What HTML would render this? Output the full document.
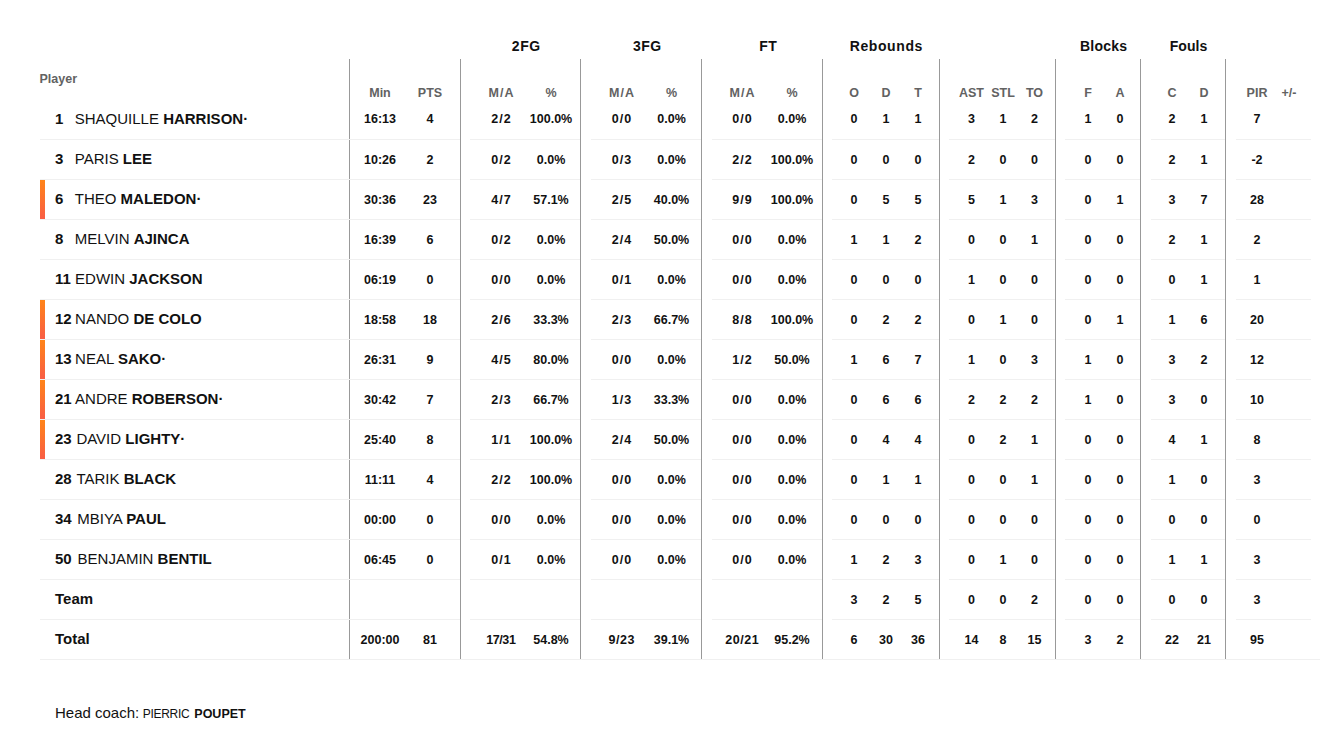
<!DOCTYPE html>
<html><head><meta charset="utf-8"><style>
html,body{margin:0;padding:0;background:#fff;width:1336px;height:733px;overflow:hidden}
body{position:relative;font-family:"Liberation Sans",sans-serif}
.t{position:absolute;white-space:nowrap}
.b{position:absolute}
</style></head><body>
<div class="b" style="left:349px;top:59px;width:1px;height:600px;background:#999"></div>
<div class="b" style="left:460px;top:59px;width:1px;height:600px;background:#999"></div>
<div class="b" style="left:580px;top:59px;width:1px;height:600px;background:#999"></div>
<div class="b" style="left:701px;top:59px;width:1px;height:600px;background:#999"></div>
<div class="b" style="left:822px;top:59px;width:1px;height:600px;background:#999"></div>
<div class="b" style="left:939px;top:59px;width:1px;height:600px;background:#999"></div>
<div class="b" style="left:1055px;top:59px;width:1px;height:600px;background:#999"></div>
<div class="b" style="left:1140px;top:59px;width:1px;height:600px;background:#999"></div>
<div class="b" style="left:1225px;top:59px;width:1px;height:600px;background:#999"></div>
<div class="b" style="left:40px;top:139px;width:420px;height:1px;background:#f0f0f0"></div>
<div class="b" style="left:470px;top:139px;width:110px;height:1px;background:#f0f0f0"></div>
<div class="b" style="left:591px;top:139px;width:110px;height:1px;background:#f0f0f0"></div>
<div class="b" style="left:712px;top:139px;width:110px;height:1px;background:#f0f0f0"></div>
<div class="b" style="left:832px;top:139px;width:107px;height:1px;background:#f0f0f0"></div>
<div class="b" style="left:949px;top:139px;width:106px;height:1px;background:#f0f0f0"></div>
<div class="b" style="left:1065px;top:139px;width:75px;height:1px;background:#f0f0f0"></div>
<div class="b" style="left:1151px;top:139px;width:74px;height:1px;background:#f0f0f0"></div>
<div class="b" style="left:1236px;top:139px;width:75px;height:1px;background:#f0f0f0"></div>
<div class="b" style="left:40px;top:179px;width:420px;height:1px;background:#f0f0f0"></div>
<div class="b" style="left:470px;top:179px;width:110px;height:1px;background:#f0f0f0"></div>
<div class="b" style="left:591px;top:179px;width:110px;height:1px;background:#f0f0f0"></div>
<div class="b" style="left:712px;top:179px;width:110px;height:1px;background:#f0f0f0"></div>
<div class="b" style="left:832px;top:179px;width:107px;height:1px;background:#f0f0f0"></div>
<div class="b" style="left:949px;top:179px;width:106px;height:1px;background:#f0f0f0"></div>
<div class="b" style="left:1065px;top:179px;width:75px;height:1px;background:#f0f0f0"></div>
<div class="b" style="left:1151px;top:179px;width:74px;height:1px;background:#f0f0f0"></div>
<div class="b" style="left:1236px;top:179px;width:75px;height:1px;background:#f0f0f0"></div>
<div class="b" style="left:40px;top:219px;width:420px;height:1px;background:#f0f0f0"></div>
<div class="b" style="left:470px;top:219px;width:110px;height:1px;background:#f0f0f0"></div>
<div class="b" style="left:591px;top:219px;width:110px;height:1px;background:#f0f0f0"></div>
<div class="b" style="left:712px;top:219px;width:110px;height:1px;background:#f0f0f0"></div>
<div class="b" style="left:832px;top:219px;width:107px;height:1px;background:#f0f0f0"></div>
<div class="b" style="left:949px;top:219px;width:106px;height:1px;background:#f0f0f0"></div>
<div class="b" style="left:1065px;top:219px;width:75px;height:1px;background:#f0f0f0"></div>
<div class="b" style="left:1151px;top:219px;width:74px;height:1px;background:#f0f0f0"></div>
<div class="b" style="left:1236px;top:219px;width:75px;height:1px;background:#f0f0f0"></div>
<div class="b" style="left:40px;top:259px;width:420px;height:1px;background:#f0f0f0"></div>
<div class="b" style="left:470px;top:259px;width:110px;height:1px;background:#f0f0f0"></div>
<div class="b" style="left:591px;top:259px;width:110px;height:1px;background:#f0f0f0"></div>
<div class="b" style="left:712px;top:259px;width:110px;height:1px;background:#f0f0f0"></div>
<div class="b" style="left:832px;top:259px;width:107px;height:1px;background:#f0f0f0"></div>
<div class="b" style="left:949px;top:259px;width:106px;height:1px;background:#f0f0f0"></div>
<div class="b" style="left:1065px;top:259px;width:75px;height:1px;background:#f0f0f0"></div>
<div class="b" style="left:1151px;top:259px;width:74px;height:1px;background:#f0f0f0"></div>
<div class="b" style="left:1236px;top:259px;width:75px;height:1px;background:#f0f0f0"></div>
<div class="b" style="left:40px;top:299px;width:420px;height:1px;background:#f0f0f0"></div>
<div class="b" style="left:470px;top:299px;width:110px;height:1px;background:#f0f0f0"></div>
<div class="b" style="left:591px;top:299px;width:110px;height:1px;background:#f0f0f0"></div>
<div class="b" style="left:712px;top:299px;width:110px;height:1px;background:#f0f0f0"></div>
<div class="b" style="left:832px;top:299px;width:107px;height:1px;background:#f0f0f0"></div>
<div class="b" style="left:949px;top:299px;width:106px;height:1px;background:#f0f0f0"></div>
<div class="b" style="left:1065px;top:299px;width:75px;height:1px;background:#f0f0f0"></div>
<div class="b" style="left:1151px;top:299px;width:74px;height:1px;background:#f0f0f0"></div>
<div class="b" style="left:1236px;top:299px;width:75px;height:1px;background:#f0f0f0"></div>
<div class="b" style="left:40px;top:339px;width:420px;height:1px;background:#f0f0f0"></div>
<div class="b" style="left:470px;top:339px;width:110px;height:1px;background:#f0f0f0"></div>
<div class="b" style="left:591px;top:339px;width:110px;height:1px;background:#f0f0f0"></div>
<div class="b" style="left:712px;top:339px;width:110px;height:1px;background:#f0f0f0"></div>
<div class="b" style="left:832px;top:339px;width:107px;height:1px;background:#f0f0f0"></div>
<div class="b" style="left:949px;top:339px;width:106px;height:1px;background:#f0f0f0"></div>
<div class="b" style="left:1065px;top:339px;width:75px;height:1px;background:#f0f0f0"></div>
<div class="b" style="left:1151px;top:339px;width:74px;height:1px;background:#f0f0f0"></div>
<div class="b" style="left:1236px;top:339px;width:75px;height:1px;background:#f0f0f0"></div>
<div class="b" style="left:40px;top:379px;width:420px;height:1px;background:#f0f0f0"></div>
<div class="b" style="left:470px;top:379px;width:110px;height:1px;background:#f0f0f0"></div>
<div class="b" style="left:591px;top:379px;width:110px;height:1px;background:#f0f0f0"></div>
<div class="b" style="left:712px;top:379px;width:110px;height:1px;background:#f0f0f0"></div>
<div class="b" style="left:832px;top:379px;width:107px;height:1px;background:#f0f0f0"></div>
<div class="b" style="left:949px;top:379px;width:106px;height:1px;background:#f0f0f0"></div>
<div class="b" style="left:1065px;top:379px;width:75px;height:1px;background:#f0f0f0"></div>
<div class="b" style="left:1151px;top:379px;width:74px;height:1px;background:#f0f0f0"></div>
<div class="b" style="left:1236px;top:379px;width:75px;height:1px;background:#f0f0f0"></div>
<div class="b" style="left:40px;top:419px;width:420px;height:1px;background:#f0f0f0"></div>
<div class="b" style="left:470px;top:419px;width:110px;height:1px;background:#f0f0f0"></div>
<div class="b" style="left:591px;top:419px;width:110px;height:1px;background:#f0f0f0"></div>
<div class="b" style="left:712px;top:419px;width:110px;height:1px;background:#f0f0f0"></div>
<div class="b" style="left:832px;top:419px;width:107px;height:1px;background:#f0f0f0"></div>
<div class="b" style="left:949px;top:419px;width:106px;height:1px;background:#f0f0f0"></div>
<div class="b" style="left:1065px;top:419px;width:75px;height:1px;background:#f0f0f0"></div>
<div class="b" style="left:1151px;top:419px;width:74px;height:1px;background:#f0f0f0"></div>
<div class="b" style="left:1236px;top:419px;width:75px;height:1px;background:#f0f0f0"></div>
<div class="b" style="left:40px;top:459px;width:420px;height:1px;background:#f0f0f0"></div>
<div class="b" style="left:470px;top:459px;width:110px;height:1px;background:#f0f0f0"></div>
<div class="b" style="left:591px;top:459px;width:110px;height:1px;background:#f0f0f0"></div>
<div class="b" style="left:712px;top:459px;width:110px;height:1px;background:#f0f0f0"></div>
<div class="b" style="left:832px;top:459px;width:107px;height:1px;background:#f0f0f0"></div>
<div class="b" style="left:949px;top:459px;width:106px;height:1px;background:#f0f0f0"></div>
<div class="b" style="left:1065px;top:459px;width:75px;height:1px;background:#f0f0f0"></div>
<div class="b" style="left:1151px;top:459px;width:74px;height:1px;background:#f0f0f0"></div>
<div class="b" style="left:1236px;top:459px;width:75px;height:1px;background:#f0f0f0"></div>
<div class="b" style="left:40px;top:499px;width:420px;height:1px;background:#f0f0f0"></div>
<div class="b" style="left:470px;top:499px;width:110px;height:1px;background:#f0f0f0"></div>
<div class="b" style="left:591px;top:499px;width:110px;height:1px;background:#f0f0f0"></div>
<div class="b" style="left:712px;top:499px;width:110px;height:1px;background:#f0f0f0"></div>
<div class="b" style="left:832px;top:499px;width:107px;height:1px;background:#f0f0f0"></div>
<div class="b" style="left:949px;top:499px;width:106px;height:1px;background:#f0f0f0"></div>
<div class="b" style="left:1065px;top:499px;width:75px;height:1px;background:#f0f0f0"></div>
<div class="b" style="left:1151px;top:499px;width:74px;height:1px;background:#f0f0f0"></div>
<div class="b" style="left:1236px;top:499px;width:75px;height:1px;background:#f0f0f0"></div>
<div class="b" style="left:40px;top:539px;width:420px;height:1px;background:#f0f0f0"></div>
<div class="b" style="left:470px;top:539px;width:110px;height:1px;background:#f0f0f0"></div>
<div class="b" style="left:591px;top:539px;width:110px;height:1px;background:#f0f0f0"></div>
<div class="b" style="left:712px;top:539px;width:110px;height:1px;background:#f0f0f0"></div>
<div class="b" style="left:832px;top:539px;width:107px;height:1px;background:#f0f0f0"></div>
<div class="b" style="left:949px;top:539px;width:106px;height:1px;background:#f0f0f0"></div>
<div class="b" style="left:1065px;top:539px;width:75px;height:1px;background:#f0f0f0"></div>
<div class="b" style="left:1151px;top:539px;width:74px;height:1px;background:#f0f0f0"></div>
<div class="b" style="left:1236px;top:539px;width:75px;height:1px;background:#f0f0f0"></div>
<div class="b" style="left:40px;top:579px;width:420px;height:1px;background:#f0f0f0"></div>
<div class="b" style="left:470px;top:579px;width:110px;height:1px;background:#f0f0f0"></div>
<div class="b" style="left:591px;top:579px;width:110px;height:1px;background:#f0f0f0"></div>
<div class="b" style="left:712px;top:579px;width:110px;height:1px;background:#f0f0f0"></div>
<div class="b" style="left:832px;top:579px;width:107px;height:1px;background:#f0f0f0"></div>
<div class="b" style="left:949px;top:579px;width:106px;height:1px;background:#f0f0f0"></div>
<div class="b" style="left:1065px;top:579px;width:75px;height:1px;background:#f0f0f0"></div>
<div class="b" style="left:1151px;top:579px;width:74px;height:1px;background:#f0f0f0"></div>
<div class="b" style="left:1236px;top:579px;width:75px;height:1px;background:#f0f0f0"></div>
<div class="b" style="left:40px;top:619px;width:420px;height:1px;background:#f0f0f0"></div>
<div class="b" style="left:470px;top:619px;width:110px;height:1px;background:#f0f0f0"></div>
<div class="b" style="left:591px;top:619px;width:110px;height:1px;background:#f0f0f0"></div>
<div class="b" style="left:712px;top:619px;width:110px;height:1px;background:#f0f0f0"></div>
<div class="b" style="left:832px;top:619px;width:107px;height:1px;background:#f0f0f0"></div>
<div class="b" style="left:949px;top:619px;width:106px;height:1px;background:#f0f0f0"></div>
<div class="b" style="left:1065px;top:619px;width:75px;height:1px;background:#f0f0f0"></div>
<div class="b" style="left:1151px;top:619px;width:74px;height:1px;background:#f0f0f0"></div>
<div class="b" style="left:1236px;top:619px;width:75px;height:1px;background:#f0f0f0"></div>
<div class="b" style="left:40px;top:659px;width:1280px;height:1px;background:#f0f0f0"></div>
<div class="b" style="left:40px;top:180px;width:5px;height:39px;background:linear-gradient(#ff8418,#f95d45)"></div>
<div class="b" style="left:40px;top:300px;width:5px;height:39px;background:linear-gradient(#ff8418,#f95d45)"></div>
<div class="b" style="left:40px;top:340px;width:5px;height:39px;background:linear-gradient(#ff8418,#f95d45)"></div>
<div class="b" style="left:40px;top:380px;width:5px;height:39px;background:linear-gradient(#ff8418,#f95d45)"></div>
<div class="b" style="left:40px;top:420px;width:5px;height:39px;background:linear-gradient(#ff8418,#f95d45)"></div>
<div class="t" style="left:466.30px;width:120px;top:37.85px;font-size:14px;line-height:17px;color:#111;font-weight:bold;text-align:center;letter-spacing:0.6px">2FG</div>
<div class="t" style="left:587.25px;width:120px;top:37.85px;font-size:14px;line-height:17px;color:#111;font-weight:bold;text-align:center;letter-spacing:0.5px">3FG</div>
<div class="t" style="left:708.15px;width:120px;top:37.85px;font-size:14px;line-height:17px;color:#111;font-weight:bold;text-align:center;letter-spacing:0.3px">FT</div>
<div class="t" style="left:826.30px;width:120px;top:37.85px;font-size:14px;line-height:17px;color:#111;font-weight:bold;text-align:center;letter-spacing:0.6px">Rebounds</div>
<div class="t" style="left:1043.60px;width:120px;top:37.85px;font-size:14px;line-height:17px;color:#111;font-weight:bold;text-align:center;letter-spacing:0.2px">Blocks</div>
<div class="t" style="left:1128.55px;width:120px;top:37.85px;font-size:14px;line-height:17px;color:#111;font-weight:bold;text-align:center;letter-spacing:0.1px">Fouls</div>
<div class="t" style="left:39.50px;top:72.17px;font-size:12.5px;line-height:15px;color:#626262;font-weight:bold;">Player</div>
<div class="t" style="left:320.00px;width:120px;top:86.17px;font-size:12.5px;line-height:15px;color:#626262;font-weight:bold;text-align:center;">Min</div>
<div class="t" style="left:370.00px;width:120px;top:86.17px;font-size:12.5px;line-height:15px;color:#626262;font-weight:bold;text-align:center;">PTS</div>
<div class="t" style="left:441.50px;width:120px;top:86.17px;font-size:12.5px;line-height:15px;color:#626262;font-weight:bold;text-align:center;letter-spacing:1px">M/A</div>
<div class="t" style="left:491.00px;width:120px;top:86.17px;font-size:12.5px;line-height:15px;color:#626262;font-weight:bold;text-align:center;">%</div>
<div class="t" style="left:562.00px;width:120px;top:86.17px;font-size:12.5px;line-height:15px;color:#626262;font-weight:bold;text-align:center;letter-spacing:1px">M/A</div>
<div class="t" style="left:611.50px;width:120px;top:86.17px;font-size:12.5px;line-height:15px;color:#626262;font-weight:bold;text-align:center;">%</div>
<div class="t" style="left:682.50px;width:120px;top:86.17px;font-size:12.5px;line-height:15px;color:#626262;font-weight:bold;text-align:center;letter-spacing:1px">M/A</div>
<div class="t" style="left:732.00px;width:120px;top:86.17px;font-size:12.5px;line-height:15px;color:#626262;font-weight:bold;text-align:center;">%</div>
<div class="t" style="left:794.00px;width:120px;top:86.17px;font-size:12.5px;line-height:15px;color:#626262;font-weight:bold;text-align:center;">O</div>
<div class="t" style="left:826.00px;width:120px;top:86.17px;font-size:12.5px;line-height:15px;color:#626262;font-weight:bold;text-align:center;">D</div>
<div class="t" style="left:858.00px;width:120px;top:86.17px;font-size:12.5px;line-height:15px;color:#626262;font-weight:bold;text-align:center;">T</div>
<div class="t" style="left:911.50px;width:120px;top:86.17px;font-size:12.5px;line-height:15px;color:#626262;font-weight:bold;text-align:center;">AST</div>
<div class="t" style="left:943.00px;width:120px;top:86.17px;font-size:12.5px;line-height:15px;color:#626262;font-weight:bold;text-align:center;">STL</div>
<div class="t" style="left:974.50px;width:120px;top:86.17px;font-size:12.5px;line-height:15px;color:#626262;font-weight:bold;text-align:center;">TO</div>
<div class="t" style="left:1028.00px;width:120px;top:86.17px;font-size:12.5px;line-height:15px;color:#626262;font-weight:bold;text-align:center;">F</div>
<div class="t" style="left:1060.00px;width:120px;top:86.17px;font-size:12.5px;line-height:15px;color:#626262;font-weight:bold;text-align:center;">A</div>
<div class="t" style="left:1112.00px;width:120px;top:86.17px;font-size:12.5px;line-height:15px;color:#626262;font-weight:bold;text-align:center;">C</div>
<div class="t" style="left:1144.00px;width:120px;top:86.17px;font-size:12.5px;line-height:15px;color:#626262;font-weight:bold;text-align:center;">D</div>
<div class="t" style="left:1197.00px;width:120px;top:86.17px;font-size:12.5px;line-height:15px;color:#626262;font-weight:bold;text-align:center;">PIR</div>
<div class="t" style="left:1229.00px;width:120px;top:86.17px;font-size:12.5px;line-height:15px;color:#626262;font-weight:bold;text-align:center;">+/-</div>
<div class="t" style="left:55.00px;top:110.20px;font-size:15px;line-height:18px;color:#111;font-weight:bold;">1</div>
<div class="t" style="left:74.75px;top:110.20px;font-size:15px;line-height:18px;color:#111;font-weight:bold;"><span style="font-weight:normal">SHAQUILLE </span>HARRISON·</div>
<div class="t" style="left:320.00px;width:120px;top:111.67px;font-size:12.5px;line-height:15px;color:#111;font-weight:bold;text-align:center;">16:13</div>
<div class="t" style="left:370.00px;width:120px;top:111.67px;font-size:12.5px;line-height:15px;color:#111;font-weight:bold;text-align:center;">4</div>
<div class="t" style="left:441.50px;width:120px;top:111.67px;font-size:12.5px;line-height:15px;color:#111;font-weight:bold;text-align:center;letter-spacing:1px">2/2</div>
<div class="t" style="left:491.00px;width:120px;top:111.67px;font-size:12.5px;line-height:15px;color:#111;font-weight:bold;text-align:center;">100.0%</div>
<div class="t" style="left:562.00px;width:120px;top:111.67px;font-size:12.5px;line-height:15px;color:#111;font-weight:bold;text-align:center;letter-spacing:1px">0/0</div>
<div class="t" style="left:611.50px;width:120px;top:111.67px;font-size:12.5px;line-height:15px;color:#111;font-weight:bold;text-align:center;">0.0%</div>
<div class="t" style="left:682.50px;width:120px;top:111.67px;font-size:12.5px;line-height:15px;color:#111;font-weight:bold;text-align:center;letter-spacing:1px">0/0</div>
<div class="t" style="left:732.00px;width:120px;top:111.67px;font-size:12.5px;line-height:15px;color:#111;font-weight:bold;text-align:center;">0.0%</div>
<div class="t" style="left:794.00px;width:120px;top:111.67px;font-size:12.5px;line-height:15px;color:#111;font-weight:bold;text-align:center;">0</div>
<div class="t" style="left:826.00px;width:120px;top:111.67px;font-size:12.5px;line-height:15px;color:#111;font-weight:bold;text-align:center;">1</div>
<div class="t" style="left:858.00px;width:120px;top:111.67px;font-size:12.5px;line-height:15px;color:#111;font-weight:bold;text-align:center;">1</div>
<div class="t" style="left:911.50px;width:120px;top:111.67px;font-size:12.5px;line-height:15px;color:#111;font-weight:bold;text-align:center;">3</div>
<div class="t" style="left:943.00px;width:120px;top:111.67px;font-size:12.5px;line-height:15px;color:#111;font-weight:bold;text-align:center;">1</div>
<div class="t" style="left:974.50px;width:120px;top:111.67px;font-size:12.5px;line-height:15px;color:#111;font-weight:bold;text-align:center;">2</div>
<div class="t" style="left:1028.00px;width:120px;top:111.67px;font-size:12.5px;line-height:15px;color:#111;font-weight:bold;text-align:center;">1</div>
<div class="t" style="left:1060.00px;width:120px;top:111.67px;font-size:12.5px;line-height:15px;color:#111;font-weight:bold;text-align:center;">0</div>
<div class="t" style="left:1112.00px;width:120px;top:111.67px;font-size:12.5px;line-height:15px;color:#111;font-weight:bold;text-align:center;">2</div>
<div class="t" style="left:1144.00px;width:120px;top:111.67px;font-size:12.5px;line-height:15px;color:#111;font-weight:bold;text-align:center;">1</div>
<div class="t" style="left:1197.00px;width:120px;top:111.67px;font-size:12.5px;line-height:15px;color:#111;font-weight:bold;text-align:center;">7</div>
<div class="t" style="left:55.00px;top:150.20px;font-size:15px;line-height:18px;color:#111;font-weight:bold;">3</div>
<div class="t" style="left:74.75px;top:150.20px;font-size:15px;line-height:18px;color:#111;font-weight:bold;"><span style="font-weight:normal">PARIS </span>LEE</div>
<div class="t" style="left:320.00px;width:120px;top:152.67px;font-size:12.5px;line-height:15px;color:#111;font-weight:bold;text-align:center;">10:26</div>
<div class="t" style="left:370.00px;width:120px;top:152.67px;font-size:12.5px;line-height:15px;color:#111;font-weight:bold;text-align:center;">2</div>
<div class="t" style="left:441.50px;width:120px;top:152.67px;font-size:12.5px;line-height:15px;color:#111;font-weight:bold;text-align:center;letter-spacing:1px">0/2</div>
<div class="t" style="left:491.00px;width:120px;top:152.67px;font-size:12.5px;line-height:15px;color:#111;font-weight:bold;text-align:center;">0.0%</div>
<div class="t" style="left:562.00px;width:120px;top:152.67px;font-size:12.5px;line-height:15px;color:#111;font-weight:bold;text-align:center;letter-spacing:1px">0/3</div>
<div class="t" style="left:611.50px;width:120px;top:152.67px;font-size:12.5px;line-height:15px;color:#111;font-weight:bold;text-align:center;">0.0%</div>
<div class="t" style="left:682.50px;width:120px;top:152.67px;font-size:12.5px;line-height:15px;color:#111;font-weight:bold;text-align:center;letter-spacing:1px">2/2</div>
<div class="t" style="left:732.00px;width:120px;top:152.67px;font-size:12.5px;line-height:15px;color:#111;font-weight:bold;text-align:center;">100.0%</div>
<div class="t" style="left:794.00px;width:120px;top:152.67px;font-size:12.5px;line-height:15px;color:#111;font-weight:bold;text-align:center;">0</div>
<div class="t" style="left:826.00px;width:120px;top:152.67px;font-size:12.5px;line-height:15px;color:#111;font-weight:bold;text-align:center;">0</div>
<div class="t" style="left:858.00px;width:120px;top:152.67px;font-size:12.5px;line-height:15px;color:#111;font-weight:bold;text-align:center;">0</div>
<div class="t" style="left:911.50px;width:120px;top:152.67px;font-size:12.5px;line-height:15px;color:#111;font-weight:bold;text-align:center;">2</div>
<div class="t" style="left:943.00px;width:120px;top:152.67px;font-size:12.5px;line-height:15px;color:#111;font-weight:bold;text-align:center;">0</div>
<div class="t" style="left:974.50px;width:120px;top:152.67px;font-size:12.5px;line-height:15px;color:#111;font-weight:bold;text-align:center;">0</div>
<div class="t" style="left:1028.00px;width:120px;top:152.67px;font-size:12.5px;line-height:15px;color:#111;font-weight:bold;text-align:center;">0</div>
<div class="t" style="left:1060.00px;width:120px;top:152.67px;font-size:12.5px;line-height:15px;color:#111;font-weight:bold;text-align:center;">0</div>
<div class="t" style="left:1112.00px;width:120px;top:152.67px;font-size:12.5px;line-height:15px;color:#111;font-weight:bold;text-align:center;">2</div>
<div class="t" style="left:1144.00px;width:120px;top:152.67px;font-size:12.5px;line-height:15px;color:#111;font-weight:bold;text-align:center;">1</div>
<div class="t" style="left:1197.00px;width:120px;top:152.67px;font-size:12.5px;line-height:15px;color:#111;font-weight:bold;text-align:center;">-2</div>
<div class="t" style="left:55.00px;top:190.20px;font-size:15px;line-height:18px;color:#111;font-weight:bold;">6</div>
<div class="t" style="left:74.75px;top:190.20px;font-size:15px;line-height:18px;color:#111;font-weight:bold;"><span style="font-weight:normal">THEO </span>MALEDON·</div>
<div class="t" style="left:320.00px;width:120px;top:192.67px;font-size:12.5px;line-height:15px;color:#111;font-weight:bold;text-align:center;">30:36</div>
<div class="t" style="left:370.00px;width:120px;top:192.67px;font-size:12.5px;line-height:15px;color:#111;font-weight:bold;text-align:center;">23</div>
<div class="t" style="left:441.50px;width:120px;top:192.67px;font-size:12.5px;line-height:15px;color:#111;font-weight:bold;text-align:center;letter-spacing:1px">4/7</div>
<div class="t" style="left:491.00px;width:120px;top:192.67px;font-size:12.5px;line-height:15px;color:#111;font-weight:bold;text-align:center;">57.1%</div>
<div class="t" style="left:562.00px;width:120px;top:192.67px;font-size:12.5px;line-height:15px;color:#111;font-weight:bold;text-align:center;letter-spacing:1px">2/5</div>
<div class="t" style="left:611.50px;width:120px;top:192.67px;font-size:12.5px;line-height:15px;color:#111;font-weight:bold;text-align:center;">40.0%</div>
<div class="t" style="left:682.50px;width:120px;top:192.67px;font-size:12.5px;line-height:15px;color:#111;font-weight:bold;text-align:center;letter-spacing:1px">9/9</div>
<div class="t" style="left:732.00px;width:120px;top:192.67px;font-size:12.5px;line-height:15px;color:#111;font-weight:bold;text-align:center;">100.0%</div>
<div class="t" style="left:794.00px;width:120px;top:192.67px;font-size:12.5px;line-height:15px;color:#111;font-weight:bold;text-align:center;">0</div>
<div class="t" style="left:826.00px;width:120px;top:192.67px;font-size:12.5px;line-height:15px;color:#111;font-weight:bold;text-align:center;">5</div>
<div class="t" style="left:858.00px;width:120px;top:192.67px;font-size:12.5px;line-height:15px;color:#111;font-weight:bold;text-align:center;">5</div>
<div class="t" style="left:911.50px;width:120px;top:192.67px;font-size:12.5px;line-height:15px;color:#111;font-weight:bold;text-align:center;">5</div>
<div class="t" style="left:943.00px;width:120px;top:192.67px;font-size:12.5px;line-height:15px;color:#111;font-weight:bold;text-align:center;">1</div>
<div class="t" style="left:974.50px;width:120px;top:192.67px;font-size:12.5px;line-height:15px;color:#111;font-weight:bold;text-align:center;">3</div>
<div class="t" style="left:1028.00px;width:120px;top:192.67px;font-size:12.5px;line-height:15px;color:#111;font-weight:bold;text-align:center;">0</div>
<div class="t" style="left:1060.00px;width:120px;top:192.67px;font-size:12.5px;line-height:15px;color:#111;font-weight:bold;text-align:center;">1</div>
<div class="t" style="left:1112.00px;width:120px;top:192.67px;font-size:12.5px;line-height:15px;color:#111;font-weight:bold;text-align:center;">3</div>
<div class="t" style="left:1144.00px;width:120px;top:192.67px;font-size:12.5px;line-height:15px;color:#111;font-weight:bold;text-align:center;">7</div>
<div class="t" style="left:1197.00px;width:120px;top:192.67px;font-size:12.5px;line-height:15px;color:#111;font-weight:bold;text-align:center;">28</div>
<div class="t" style="left:55.00px;top:230.20px;font-size:15px;line-height:18px;color:#111;font-weight:bold;">8</div>
<div class="t" style="left:74.75px;top:230.20px;font-size:15px;line-height:18px;color:#111;font-weight:bold;"><span style="font-weight:normal">MELVIN </span>AJINCA</div>
<div class="t" style="left:320.00px;width:120px;top:232.67px;font-size:12.5px;line-height:15px;color:#111;font-weight:bold;text-align:center;">16:39</div>
<div class="t" style="left:370.00px;width:120px;top:232.67px;font-size:12.5px;line-height:15px;color:#111;font-weight:bold;text-align:center;">6</div>
<div class="t" style="left:441.50px;width:120px;top:232.67px;font-size:12.5px;line-height:15px;color:#111;font-weight:bold;text-align:center;letter-spacing:1px">0/2</div>
<div class="t" style="left:491.00px;width:120px;top:232.67px;font-size:12.5px;line-height:15px;color:#111;font-weight:bold;text-align:center;">0.0%</div>
<div class="t" style="left:562.00px;width:120px;top:232.67px;font-size:12.5px;line-height:15px;color:#111;font-weight:bold;text-align:center;letter-spacing:1px">2/4</div>
<div class="t" style="left:611.50px;width:120px;top:232.67px;font-size:12.5px;line-height:15px;color:#111;font-weight:bold;text-align:center;">50.0%</div>
<div class="t" style="left:682.50px;width:120px;top:232.67px;font-size:12.5px;line-height:15px;color:#111;font-weight:bold;text-align:center;letter-spacing:1px">0/0</div>
<div class="t" style="left:732.00px;width:120px;top:232.67px;font-size:12.5px;line-height:15px;color:#111;font-weight:bold;text-align:center;">0.0%</div>
<div class="t" style="left:794.00px;width:120px;top:232.67px;font-size:12.5px;line-height:15px;color:#111;font-weight:bold;text-align:center;">1</div>
<div class="t" style="left:826.00px;width:120px;top:232.67px;font-size:12.5px;line-height:15px;color:#111;font-weight:bold;text-align:center;">1</div>
<div class="t" style="left:858.00px;width:120px;top:232.67px;font-size:12.5px;line-height:15px;color:#111;font-weight:bold;text-align:center;">2</div>
<div class="t" style="left:911.50px;width:120px;top:232.67px;font-size:12.5px;line-height:15px;color:#111;font-weight:bold;text-align:center;">0</div>
<div class="t" style="left:943.00px;width:120px;top:232.67px;font-size:12.5px;line-height:15px;color:#111;font-weight:bold;text-align:center;">0</div>
<div class="t" style="left:974.50px;width:120px;top:232.67px;font-size:12.5px;line-height:15px;color:#111;font-weight:bold;text-align:center;">1</div>
<div class="t" style="left:1028.00px;width:120px;top:232.67px;font-size:12.5px;line-height:15px;color:#111;font-weight:bold;text-align:center;">0</div>
<div class="t" style="left:1060.00px;width:120px;top:232.67px;font-size:12.5px;line-height:15px;color:#111;font-weight:bold;text-align:center;">0</div>
<div class="t" style="left:1112.00px;width:120px;top:232.67px;font-size:12.5px;line-height:15px;color:#111;font-weight:bold;text-align:center;">2</div>
<div class="t" style="left:1144.00px;width:120px;top:232.67px;font-size:12.5px;line-height:15px;color:#111;font-weight:bold;text-align:center;">1</div>
<div class="t" style="left:1197.00px;width:120px;top:232.67px;font-size:12.5px;line-height:15px;color:#111;font-weight:bold;text-align:center;">2</div>
<div class="t" style="left:55.00px;top:270.20px;font-size:15px;line-height:18px;color:#111;font-weight:bold;">11</div>
<div class="t" style="left:75.10px;top:270.20px;font-size:15px;line-height:18px;color:#111;font-weight:bold;"><span style="font-weight:normal">EDWIN </span>JACKSON</div>
<div class="t" style="left:320.00px;width:120px;top:272.67px;font-size:12.5px;line-height:15px;color:#111;font-weight:bold;text-align:center;">06:19</div>
<div class="t" style="left:370.00px;width:120px;top:272.67px;font-size:12.5px;line-height:15px;color:#111;font-weight:bold;text-align:center;">0</div>
<div class="t" style="left:441.50px;width:120px;top:272.67px;font-size:12.5px;line-height:15px;color:#111;font-weight:bold;text-align:center;letter-spacing:1px">0/0</div>
<div class="t" style="left:491.00px;width:120px;top:272.67px;font-size:12.5px;line-height:15px;color:#111;font-weight:bold;text-align:center;">0.0%</div>
<div class="t" style="left:562.00px;width:120px;top:272.67px;font-size:12.5px;line-height:15px;color:#111;font-weight:bold;text-align:center;letter-spacing:1px">0/1</div>
<div class="t" style="left:611.50px;width:120px;top:272.67px;font-size:12.5px;line-height:15px;color:#111;font-weight:bold;text-align:center;">0.0%</div>
<div class="t" style="left:682.50px;width:120px;top:272.67px;font-size:12.5px;line-height:15px;color:#111;font-weight:bold;text-align:center;letter-spacing:1px">0/0</div>
<div class="t" style="left:732.00px;width:120px;top:272.67px;font-size:12.5px;line-height:15px;color:#111;font-weight:bold;text-align:center;">0.0%</div>
<div class="t" style="left:794.00px;width:120px;top:272.67px;font-size:12.5px;line-height:15px;color:#111;font-weight:bold;text-align:center;">0</div>
<div class="t" style="left:826.00px;width:120px;top:272.67px;font-size:12.5px;line-height:15px;color:#111;font-weight:bold;text-align:center;">0</div>
<div class="t" style="left:858.00px;width:120px;top:272.67px;font-size:12.5px;line-height:15px;color:#111;font-weight:bold;text-align:center;">0</div>
<div class="t" style="left:911.50px;width:120px;top:272.67px;font-size:12.5px;line-height:15px;color:#111;font-weight:bold;text-align:center;">1</div>
<div class="t" style="left:943.00px;width:120px;top:272.67px;font-size:12.5px;line-height:15px;color:#111;font-weight:bold;text-align:center;">0</div>
<div class="t" style="left:974.50px;width:120px;top:272.67px;font-size:12.5px;line-height:15px;color:#111;font-weight:bold;text-align:center;">0</div>
<div class="t" style="left:1028.00px;width:120px;top:272.67px;font-size:12.5px;line-height:15px;color:#111;font-weight:bold;text-align:center;">0</div>
<div class="t" style="left:1060.00px;width:120px;top:272.67px;font-size:12.5px;line-height:15px;color:#111;font-weight:bold;text-align:center;">0</div>
<div class="t" style="left:1112.00px;width:120px;top:272.67px;font-size:12.5px;line-height:15px;color:#111;font-weight:bold;text-align:center;">0</div>
<div class="t" style="left:1144.00px;width:120px;top:272.67px;font-size:12.5px;line-height:15px;color:#111;font-weight:bold;text-align:center;">1</div>
<div class="t" style="left:1197.00px;width:120px;top:272.67px;font-size:12.5px;line-height:15px;color:#111;font-weight:bold;text-align:center;">1</div>
<div class="t" style="left:55.00px;top:310.20px;font-size:15px;line-height:18px;color:#111;font-weight:bold;">12</div>
<div class="t" style="left:75.10px;top:310.20px;font-size:15px;line-height:18px;color:#111;font-weight:bold;"><span style="font-weight:normal">NANDO </span>DE COLO</div>
<div class="t" style="left:320.00px;width:120px;top:312.67px;font-size:12.5px;line-height:15px;color:#111;font-weight:bold;text-align:center;">18:58</div>
<div class="t" style="left:370.00px;width:120px;top:312.67px;font-size:12.5px;line-height:15px;color:#111;font-weight:bold;text-align:center;">18</div>
<div class="t" style="left:441.50px;width:120px;top:312.67px;font-size:12.5px;line-height:15px;color:#111;font-weight:bold;text-align:center;letter-spacing:1px">2/6</div>
<div class="t" style="left:491.00px;width:120px;top:312.67px;font-size:12.5px;line-height:15px;color:#111;font-weight:bold;text-align:center;">33.3%</div>
<div class="t" style="left:562.00px;width:120px;top:312.67px;font-size:12.5px;line-height:15px;color:#111;font-weight:bold;text-align:center;letter-spacing:1px">2/3</div>
<div class="t" style="left:611.50px;width:120px;top:312.67px;font-size:12.5px;line-height:15px;color:#111;font-weight:bold;text-align:center;">66.7%</div>
<div class="t" style="left:682.50px;width:120px;top:312.67px;font-size:12.5px;line-height:15px;color:#111;font-weight:bold;text-align:center;letter-spacing:1px">8/8</div>
<div class="t" style="left:732.00px;width:120px;top:312.67px;font-size:12.5px;line-height:15px;color:#111;font-weight:bold;text-align:center;">100.0%</div>
<div class="t" style="left:794.00px;width:120px;top:312.67px;font-size:12.5px;line-height:15px;color:#111;font-weight:bold;text-align:center;">0</div>
<div class="t" style="left:826.00px;width:120px;top:312.67px;font-size:12.5px;line-height:15px;color:#111;font-weight:bold;text-align:center;">2</div>
<div class="t" style="left:858.00px;width:120px;top:312.67px;font-size:12.5px;line-height:15px;color:#111;font-weight:bold;text-align:center;">2</div>
<div class="t" style="left:911.50px;width:120px;top:312.67px;font-size:12.5px;line-height:15px;color:#111;font-weight:bold;text-align:center;">0</div>
<div class="t" style="left:943.00px;width:120px;top:312.67px;font-size:12.5px;line-height:15px;color:#111;font-weight:bold;text-align:center;">1</div>
<div class="t" style="left:974.50px;width:120px;top:312.67px;font-size:12.5px;line-height:15px;color:#111;font-weight:bold;text-align:center;">0</div>
<div class="t" style="left:1028.00px;width:120px;top:312.67px;font-size:12.5px;line-height:15px;color:#111;font-weight:bold;text-align:center;">0</div>
<div class="t" style="left:1060.00px;width:120px;top:312.67px;font-size:12.5px;line-height:15px;color:#111;font-weight:bold;text-align:center;">1</div>
<div class="t" style="left:1112.00px;width:120px;top:312.67px;font-size:12.5px;line-height:15px;color:#111;font-weight:bold;text-align:center;">1</div>
<div class="t" style="left:1144.00px;width:120px;top:312.67px;font-size:12.5px;line-height:15px;color:#111;font-weight:bold;text-align:center;">6</div>
<div class="t" style="left:1197.00px;width:120px;top:312.67px;font-size:12.5px;line-height:15px;color:#111;font-weight:bold;text-align:center;">20</div>
<div class="t" style="left:55.00px;top:350.20px;font-size:15px;line-height:18px;color:#111;font-weight:bold;">13</div>
<div class="t" style="left:75.10px;top:350.20px;font-size:15px;line-height:18px;color:#111;font-weight:bold;"><span style="font-weight:normal">NEAL </span>SAKO·</div>
<div class="t" style="left:320.00px;width:120px;top:352.67px;font-size:12.5px;line-height:15px;color:#111;font-weight:bold;text-align:center;">26:31</div>
<div class="t" style="left:370.00px;width:120px;top:352.67px;font-size:12.5px;line-height:15px;color:#111;font-weight:bold;text-align:center;">9</div>
<div class="t" style="left:441.50px;width:120px;top:352.67px;font-size:12.5px;line-height:15px;color:#111;font-weight:bold;text-align:center;letter-spacing:1px">4/5</div>
<div class="t" style="left:491.00px;width:120px;top:352.67px;font-size:12.5px;line-height:15px;color:#111;font-weight:bold;text-align:center;">80.0%</div>
<div class="t" style="left:562.00px;width:120px;top:352.67px;font-size:12.5px;line-height:15px;color:#111;font-weight:bold;text-align:center;letter-spacing:1px">0/0</div>
<div class="t" style="left:611.50px;width:120px;top:352.67px;font-size:12.5px;line-height:15px;color:#111;font-weight:bold;text-align:center;">0.0%</div>
<div class="t" style="left:682.50px;width:120px;top:352.67px;font-size:12.5px;line-height:15px;color:#111;font-weight:bold;text-align:center;letter-spacing:1px">1/2</div>
<div class="t" style="left:732.00px;width:120px;top:352.67px;font-size:12.5px;line-height:15px;color:#111;font-weight:bold;text-align:center;">50.0%</div>
<div class="t" style="left:794.00px;width:120px;top:352.67px;font-size:12.5px;line-height:15px;color:#111;font-weight:bold;text-align:center;">1</div>
<div class="t" style="left:826.00px;width:120px;top:352.67px;font-size:12.5px;line-height:15px;color:#111;font-weight:bold;text-align:center;">6</div>
<div class="t" style="left:858.00px;width:120px;top:352.67px;font-size:12.5px;line-height:15px;color:#111;font-weight:bold;text-align:center;">7</div>
<div class="t" style="left:911.50px;width:120px;top:352.67px;font-size:12.5px;line-height:15px;color:#111;font-weight:bold;text-align:center;">1</div>
<div class="t" style="left:943.00px;width:120px;top:352.67px;font-size:12.5px;line-height:15px;color:#111;font-weight:bold;text-align:center;">0</div>
<div class="t" style="left:974.50px;width:120px;top:352.67px;font-size:12.5px;line-height:15px;color:#111;font-weight:bold;text-align:center;">3</div>
<div class="t" style="left:1028.00px;width:120px;top:352.67px;font-size:12.5px;line-height:15px;color:#111;font-weight:bold;text-align:center;">1</div>
<div class="t" style="left:1060.00px;width:120px;top:352.67px;font-size:12.5px;line-height:15px;color:#111;font-weight:bold;text-align:center;">0</div>
<div class="t" style="left:1112.00px;width:120px;top:352.67px;font-size:12.5px;line-height:15px;color:#111;font-weight:bold;text-align:center;">3</div>
<div class="t" style="left:1144.00px;width:120px;top:352.67px;font-size:12.5px;line-height:15px;color:#111;font-weight:bold;text-align:center;">2</div>
<div class="t" style="left:1197.00px;width:120px;top:352.67px;font-size:12.5px;line-height:15px;color:#111;font-weight:bold;text-align:center;">12</div>
<div class="t" style="left:55.00px;top:390.20px;font-size:15px;line-height:18px;color:#111;font-weight:bold;">21</div>
<div class="t" style="left:75.10px;top:390.20px;font-size:15px;line-height:18px;color:#111;font-weight:bold;"><span style="font-weight:normal">ANDRE </span>ROBERSON·</div>
<div class="t" style="left:320.00px;width:120px;top:392.67px;font-size:12.5px;line-height:15px;color:#111;font-weight:bold;text-align:center;">30:42</div>
<div class="t" style="left:370.00px;width:120px;top:392.67px;font-size:12.5px;line-height:15px;color:#111;font-weight:bold;text-align:center;">7</div>
<div class="t" style="left:441.50px;width:120px;top:392.67px;font-size:12.5px;line-height:15px;color:#111;font-weight:bold;text-align:center;letter-spacing:1px">2/3</div>
<div class="t" style="left:491.00px;width:120px;top:392.67px;font-size:12.5px;line-height:15px;color:#111;font-weight:bold;text-align:center;">66.7%</div>
<div class="t" style="left:562.00px;width:120px;top:392.67px;font-size:12.5px;line-height:15px;color:#111;font-weight:bold;text-align:center;letter-spacing:1px">1/3</div>
<div class="t" style="left:611.50px;width:120px;top:392.67px;font-size:12.5px;line-height:15px;color:#111;font-weight:bold;text-align:center;">33.3%</div>
<div class="t" style="left:682.50px;width:120px;top:392.67px;font-size:12.5px;line-height:15px;color:#111;font-weight:bold;text-align:center;letter-spacing:1px">0/0</div>
<div class="t" style="left:732.00px;width:120px;top:392.67px;font-size:12.5px;line-height:15px;color:#111;font-weight:bold;text-align:center;">0.0%</div>
<div class="t" style="left:794.00px;width:120px;top:392.67px;font-size:12.5px;line-height:15px;color:#111;font-weight:bold;text-align:center;">0</div>
<div class="t" style="left:826.00px;width:120px;top:392.67px;font-size:12.5px;line-height:15px;color:#111;font-weight:bold;text-align:center;">6</div>
<div class="t" style="left:858.00px;width:120px;top:392.67px;font-size:12.5px;line-height:15px;color:#111;font-weight:bold;text-align:center;">6</div>
<div class="t" style="left:911.50px;width:120px;top:392.67px;font-size:12.5px;line-height:15px;color:#111;font-weight:bold;text-align:center;">2</div>
<div class="t" style="left:943.00px;width:120px;top:392.67px;font-size:12.5px;line-height:15px;color:#111;font-weight:bold;text-align:center;">2</div>
<div class="t" style="left:974.50px;width:120px;top:392.67px;font-size:12.5px;line-height:15px;color:#111;font-weight:bold;text-align:center;">2</div>
<div class="t" style="left:1028.00px;width:120px;top:392.67px;font-size:12.5px;line-height:15px;color:#111;font-weight:bold;text-align:center;">1</div>
<div class="t" style="left:1060.00px;width:120px;top:392.67px;font-size:12.5px;line-height:15px;color:#111;font-weight:bold;text-align:center;">0</div>
<div class="t" style="left:1112.00px;width:120px;top:392.67px;font-size:12.5px;line-height:15px;color:#111;font-weight:bold;text-align:center;">3</div>
<div class="t" style="left:1144.00px;width:120px;top:392.67px;font-size:12.5px;line-height:15px;color:#111;font-weight:bold;text-align:center;">0</div>
<div class="t" style="left:1197.00px;width:120px;top:392.67px;font-size:12.5px;line-height:15px;color:#111;font-weight:bold;text-align:center;">10</div>
<div class="t" style="left:55.00px;top:430.20px;font-size:15px;line-height:18px;color:#111;font-weight:bold;">23</div>
<div class="t" style="left:76.40px;top:430.20px;font-size:15px;line-height:18px;color:#111;font-weight:bold;"><span style="font-weight:normal">DAVID </span>LIGHTY·</div>
<div class="t" style="left:320.00px;width:120px;top:432.67px;font-size:12.5px;line-height:15px;color:#111;font-weight:bold;text-align:center;">25:40</div>
<div class="t" style="left:370.00px;width:120px;top:432.67px;font-size:12.5px;line-height:15px;color:#111;font-weight:bold;text-align:center;">8</div>
<div class="t" style="left:441.50px;width:120px;top:432.67px;font-size:12.5px;line-height:15px;color:#111;font-weight:bold;text-align:center;letter-spacing:1px">1/1</div>
<div class="t" style="left:491.00px;width:120px;top:432.67px;font-size:12.5px;line-height:15px;color:#111;font-weight:bold;text-align:center;">100.0%</div>
<div class="t" style="left:562.00px;width:120px;top:432.67px;font-size:12.5px;line-height:15px;color:#111;font-weight:bold;text-align:center;letter-spacing:1px">2/4</div>
<div class="t" style="left:611.50px;width:120px;top:432.67px;font-size:12.5px;line-height:15px;color:#111;font-weight:bold;text-align:center;">50.0%</div>
<div class="t" style="left:682.50px;width:120px;top:432.67px;font-size:12.5px;line-height:15px;color:#111;font-weight:bold;text-align:center;letter-spacing:1px">0/0</div>
<div class="t" style="left:732.00px;width:120px;top:432.67px;font-size:12.5px;line-height:15px;color:#111;font-weight:bold;text-align:center;">0.0%</div>
<div class="t" style="left:794.00px;width:120px;top:432.67px;font-size:12.5px;line-height:15px;color:#111;font-weight:bold;text-align:center;">0</div>
<div class="t" style="left:826.00px;width:120px;top:432.67px;font-size:12.5px;line-height:15px;color:#111;font-weight:bold;text-align:center;">4</div>
<div class="t" style="left:858.00px;width:120px;top:432.67px;font-size:12.5px;line-height:15px;color:#111;font-weight:bold;text-align:center;">4</div>
<div class="t" style="left:911.50px;width:120px;top:432.67px;font-size:12.5px;line-height:15px;color:#111;font-weight:bold;text-align:center;">0</div>
<div class="t" style="left:943.00px;width:120px;top:432.67px;font-size:12.5px;line-height:15px;color:#111;font-weight:bold;text-align:center;">2</div>
<div class="t" style="left:974.50px;width:120px;top:432.67px;font-size:12.5px;line-height:15px;color:#111;font-weight:bold;text-align:center;">1</div>
<div class="t" style="left:1028.00px;width:120px;top:432.67px;font-size:12.5px;line-height:15px;color:#111;font-weight:bold;text-align:center;">0</div>
<div class="t" style="left:1060.00px;width:120px;top:432.67px;font-size:12.5px;line-height:15px;color:#111;font-weight:bold;text-align:center;">0</div>
<div class="t" style="left:1112.00px;width:120px;top:432.67px;font-size:12.5px;line-height:15px;color:#111;font-weight:bold;text-align:center;">4</div>
<div class="t" style="left:1144.00px;width:120px;top:432.67px;font-size:12.5px;line-height:15px;color:#111;font-weight:bold;text-align:center;">1</div>
<div class="t" style="left:1197.00px;width:120px;top:432.67px;font-size:12.5px;line-height:15px;color:#111;font-weight:bold;text-align:center;">8</div>
<div class="t" style="left:55.00px;top:470.20px;font-size:15px;line-height:18px;color:#111;font-weight:bold;">28</div>
<div class="t" style="left:76.40px;top:470.20px;font-size:15px;line-height:18px;color:#111;font-weight:bold;"><span style="font-weight:normal">TARIK </span>BLACK</div>
<div class="t" style="left:320.00px;width:120px;top:472.67px;font-size:12.5px;line-height:15px;color:#111;font-weight:bold;text-align:center;">11:11</div>
<div class="t" style="left:370.00px;width:120px;top:472.67px;font-size:12.5px;line-height:15px;color:#111;font-weight:bold;text-align:center;">4</div>
<div class="t" style="left:441.50px;width:120px;top:472.67px;font-size:12.5px;line-height:15px;color:#111;font-weight:bold;text-align:center;letter-spacing:1px">2/2</div>
<div class="t" style="left:491.00px;width:120px;top:472.67px;font-size:12.5px;line-height:15px;color:#111;font-weight:bold;text-align:center;">100.0%</div>
<div class="t" style="left:562.00px;width:120px;top:472.67px;font-size:12.5px;line-height:15px;color:#111;font-weight:bold;text-align:center;letter-spacing:1px">0/0</div>
<div class="t" style="left:611.50px;width:120px;top:472.67px;font-size:12.5px;line-height:15px;color:#111;font-weight:bold;text-align:center;">0.0%</div>
<div class="t" style="left:682.50px;width:120px;top:472.67px;font-size:12.5px;line-height:15px;color:#111;font-weight:bold;text-align:center;letter-spacing:1px">0/0</div>
<div class="t" style="left:732.00px;width:120px;top:472.67px;font-size:12.5px;line-height:15px;color:#111;font-weight:bold;text-align:center;">0.0%</div>
<div class="t" style="left:794.00px;width:120px;top:472.67px;font-size:12.5px;line-height:15px;color:#111;font-weight:bold;text-align:center;">0</div>
<div class="t" style="left:826.00px;width:120px;top:472.67px;font-size:12.5px;line-height:15px;color:#111;font-weight:bold;text-align:center;">1</div>
<div class="t" style="left:858.00px;width:120px;top:472.67px;font-size:12.5px;line-height:15px;color:#111;font-weight:bold;text-align:center;">1</div>
<div class="t" style="left:911.50px;width:120px;top:472.67px;font-size:12.5px;line-height:15px;color:#111;font-weight:bold;text-align:center;">0</div>
<div class="t" style="left:943.00px;width:120px;top:472.67px;font-size:12.5px;line-height:15px;color:#111;font-weight:bold;text-align:center;">0</div>
<div class="t" style="left:974.50px;width:120px;top:472.67px;font-size:12.5px;line-height:15px;color:#111;font-weight:bold;text-align:center;">1</div>
<div class="t" style="left:1028.00px;width:120px;top:472.67px;font-size:12.5px;line-height:15px;color:#111;font-weight:bold;text-align:center;">0</div>
<div class="t" style="left:1060.00px;width:120px;top:472.67px;font-size:12.5px;line-height:15px;color:#111;font-weight:bold;text-align:center;">0</div>
<div class="t" style="left:1112.00px;width:120px;top:472.67px;font-size:12.5px;line-height:15px;color:#111;font-weight:bold;text-align:center;">1</div>
<div class="t" style="left:1144.00px;width:120px;top:472.67px;font-size:12.5px;line-height:15px;color:#111;font-weight:bold;text-align:center;">0</div>
<div class="t" style="left:1197.00px;width:120px;top:472.67px;font-size:12.5px;line-height:15px;color:#111;font-weight:bold;text-align:center;">3</div>
<div class="t" style="left:55.00px;top:510.20px;font-size:15px;line-height:18px;color:#111;font-weight:bold;">34</div>
<div class="t" style="left:77.25px;top:510.20px;font-size:15px;line-height:18px;color:#111;font-weight:bold;"><span style="font-weight:normal">MBIYA </span>PAUL</div>
<div class="t" style="left:320.00px;width:120px;top:512.67px;font-size:12.5px;line-height:15px;color:#111;font-weight:bold;text-align:center;">00:00</div>
<div class="t" style="left:370.00px;width:120px;top:512.67px;font-size:12.5px;line-height:15px;color:#111;font-weight:bold;text-align:center;">0</div>
<div class="t" style="left:441.50px;width:120px;top:512.67px;font-size:12.5px;line-height:15px;color:#111;font-weight:bold;text-align:center;letter-spacing:1px">0/0</div>
<div class="t" style="left:491.00px;width:120px;top:512.67px;font-size:12.5px;line-height:15px;color:#111;font-weight:bold;text-align:center;">0.0%</div>
<div class="t" style="left:562.00px;width:120px;top:512.67px;font-size:12.5px;line-height:15px;color:#111;font-weight:bold;text-align:center;letter-spacing:1px">0/0</div>
<div class="t" style="left:611.50px;width:120px;top:512.67px;font-size:12.5px;line-height:15px;color:#111;font-weight:bold;text-align:center;">0.0%</div>
<div class="t" style="left:682.50px;width:120px;top:512.67px;font-size:12.5px;line-height:15px;color:#111;font-weight:bold;text-align:center;letter-spacing:1px">0/0</div>
<div class="t" style="left:732.00px;width:120px;top:512.67px;font-size:12.5px;line-height:15px;color:#111;font-weight:bold;text-align:center;">0.0%</div>
<div class="t" style="left:794.00px;width:120px;top:512.67px;font-size:12.5px;line-height:15px;color:#111;font-weight:bold;text-align:center;">0</div>
<div class="t" style="left:826.00px;width:120px;top:512.67px;font-size:12.5px;line-height:15px;color:#111;font-weight:bold;text-align:center;">0</div>
<div class="t" style="left:858.00px;width:120px;top:512.67px;font-size:12.5px;line-height:15px;color:#111;font-weight:bold;text-align:center;">0</div>
<div class="t" style="left:911.50px;width:120px;top:512.67px;font-size:12.5px;line-height:15px;color:#111;font-weight:bold;text-align:center;">0</div>
<div class="t" style="left:943.00px;width:120px;top:512.67px;font-size:12.5px;line-height:15px;color:#111;font-weight:bold;text-align:center;">0</div>
<div class="t" style="left:974.50px;width:120px;top:512.67px;font-size:12.5px;line-height:15px;color:#111;font-weight:bold;text-align:center;">0</div>
<div class="t" style="left:1028.00px;width:120px;top:512.67px;font-size:12.5px;line-height:15px;color:#111;font-weight:bold;text-align:center;">0</div>
<div class="t" style="left:1060.00px;width:120px;top:512.67px;font-size:12.5px;line-height:15px;color:#111;font-weight:bold;text-align:center;">0</div>
<div class="t" style="left:1112.00px;width:120px;top:512.67px;font-size:12.5px;line-height:15px;color:#111;font-weight:bold;text-align:center;">0</div>
<div class="t" style="left:1144.00px;width:120px;top:512.67px;font-size:12.5px;line-height:15px;color:#111;font-weight:bold;text-align:center;">0</div>
<div class="t" style="left:1197.00px;width:120px;top:512.67px;font-size:12.5px;line-height:15px;color:#111;font-weight:bold;text-align:center;">0</div>
<div class="t" style="left:55.00px;top:550.20px;font-size:15px;line-height:18px;color:#111;font-weight:bold;">50</div>
<div class="t" style="left:77.60px;top:550.20px;font-size:15px;line-height:18px;color:#111;font-weight:bold;"><span style="font-weight:normal">BENJAMIN </span>BENTIL</div>
<div class="t" style="left:320.00px;width:120px;top:552.67px;font-size:12.5px;line-height:15px;color:#111;font-weight:bold;text-align:center;">06:45</div>
<div class="t" style="left:370.00px;width:120px;top:552.67px;font-size:12.5px;line-height:15px;color:#111;font-weight:bold;text-align:center;">0</div>
<div class="t" style="left:441.50px;width:120px;top:552.67px;font-size:12.5px;line-height:15px;color:#111;font-weight:bold;text-align:center;letter-spacing:1px">0/1</div>
<div class="t" style="left:491.00px;width:120px;top:552.67px;font-size:12.5px;line-height:15px;color:#111;font-weight:bold;text-align:center;">0.0%</div>
<div class="t" style="left:562.00px;width:120px;top:552.67px;font-size:12.5px;line-height:15px;color:#111;font-weight:bold;text-align:center;letter-spacing:1px">0/0</div>
<div class="t" style="left:611.50px;width:120px;top:552.67px;font-size:12.5px;line-height:15px;color:#111;font-weight:bold;text-align:center;">0.0%</div>
<div class="t" style="left:682.50px;width:120px;top:552.67px;font-size:12.5px;line-height:15px;color:#111;font-weight:bold;text-align:center;letter-spacing:1px">0/0</div>
<div class="t" style="left:732.00px;width:120px;top:552.67px;font-size:12.5px;line-height:15px;color:#111;font-weight:bold;text-align:center;">0.0%</div>
<div class="t" style="left:794.00px;width:120px;top:552.67px;font-size:12.5px;line-height:15px;color:#111;font-weight:bold;text-align:center;">1</div>
<div class="t" style="left:826.00px;width:120px;top:552.67px;font-size:12.5px;line-height:15px;color:#111;font-weight:bold;text-align:center;">2</div>
<div class="t" style="left:858.00px;width:120px;top:552.67px;font-size:12.5px;line-height:15px;color:#111;font-weight:bold;text-align:center;">3</div>
<div class="t" style="left:911.50px;width:120px;top:552.67px;font-size:12.5px;line-height:15px;color:#111;font-weight:bold;text-align:center;">0</div>
<div class="t" style="left:943.00px;width:120px;top:552.67px;font-size:12.5px;line-height:15px;color:#111;font-weight:bold;text-align:center;">1</div>
<div class="t" style="left:974.50px;width:120px;top:552.67px;font-size:12.5px;line-height:15px;color:#111;font-weight:bold;text-align:center;">0</div>
<div class="t" style="left:1028.00px;width:120px;top:552.67px;font-size:12.5px;line-height:15px;color:#111;font-weight:bold;text-align:center;">0</div>
<div class="t" style="left:1060.00px;width:120px;top:552.67px;font-size:12.5px;line-height:15px;color:#111;font-weight:bold;text-align:center;">0</div>
<div class="t" style="left:1112.00px;width:120px;top:552.67px;font-size:12.5px;line-height:15px;color:#111;font-weight:bold;text-align:center;">1</div>
<div class="t" style="left:1144.00px;width:120px;top:552.67px;font-size:12.5px;line-height:15px;color:#111;font-weight:bold;text-align:center;">1</div>
<div class="t" style="left:1197.00px;width:120px;top:552.67px;font-size:12.5px;line-height:15px;color:#111;font-weight:bold;text-align:center;">3</div>
<div class="t" style="left:55.00px;top:589.80px;font-size:15px;line-height:18px;color:#111;font-weight:bold;">Team</div>
<div class="t" style="left:794.00px;width:120px;top:592.67px;font-size:12.5px;line-height:15px;color:#111;font-weight:bold;text-align:center;">3</div>
<div class="t" style="left:826.00px;width:120px;top:592.67px;font-size:12.5px;line-height:15px;color:#111;font-weight:bold;text-align:center;">2</div>
<div class="t" style="left:858.00px;width:120px;top:592.67px;font-size:12.5px;line-height:15px;color:#111;font-weight:bold;text-align:center;">5</div>
<div class="t" style="left:911.50px;width:120px;top:592.67px;font-size:12.5px;line-height:15px;color:#111;font-weight:bold;text-align:center;">0</div>
<div class="t" style="left:943.00px;width:120px;top:592.67px;font-size:12.5px;line-height:15px;color:#111;font-weight:bold;text-align:center;">0</div>
<div class="t" style="left:974.50px;width:120px;top:592.67px;font-size:12.5px;line-height:15px;color:#111;font-weight:bold;text-align:center;">2</div>
<div class="t" style="left:1028.00px;width:120px;top:592.67px;font-size:12.5px;line-height:15px;color:#111;font-weight:bold;text-align:center;">0</div>
<div class="t" style="left:1060.00px;width:120px;top:592.67px;font-size:12.5px;line-height:15px;color:#111;font-weight:bold;text-align:center;">0</div>
<div class="t" style="left:1112.00px;width:120px;top:592.67px;font-size:12.5px;line-height:15px;color:#111;font-weight:bold;text-align:center;">0</div>
<div class="t" style="left:1144.00px;width:120px;top:592.67px;font-size:12.5px;line-height:15px;color:#111;font-weight:bold;text-align:center;">0</div>
<div class="t" style="left:1197.00px;width:120px;top:592.67px;font-size:12.5px;line-height:15px;color:#111;font-weight:bold;text-align:center;">3</div>
<div class="t" style="left:55.00px;top:629.80px;font-size:15px;line-height:18px;color:#111;font-weight:bold;">Total</div>
<div class="t" style="left:320.00px;width:120px;top:632.67px;font-size:12.5px;line-height:15px;color:#111;font-weight:bold;text-align:center;">200:00</div>
<div class="t" style="left:370.00px;width:120px;top:632.67px;font-size:12.5px;line-height:15px;color:#111;font-weight:bold;text-align:center;">81</div>
<div class="t" style="left:440.80px;width:120px;top:632.67px;font-size:12.5px;line-height:15px;color:#111;font-weight:bold;text-align:center;letter-spacing:-0.4px">17/31</div>
<div class="t" style="left:491.00px;width:120px;top:632.67px;font-size:12.5px;line-height:15px;color:#111;font-weight:bold;text-align:center;">54.8%</div>
<div class="t" style="left:561.75px;width:120px;top:632.67px;font-size:12.5px;line-height:15px;color:#111;font-weight:bold;text-align:center;letter-spacing:0.5px">9/23</div>
<div class="t" style="left:611.50px;width:120px;top:632.67px;font-size:12.5px;line-height:15px;color:#111;font-weight:bold;text-align:center;">39.1%</div>
<div class="t" style="left:682.25px;width:120px;top:632.67px;font-size:12.5px;line-height:15px;color:#111;font-weight:bold;text-align:center;letter-spacing:0.5px">20/21</div>
<div class="t" style="left:732.00px;width:120px;top:632.67px;font-size:12.5px;line-height:15px;color:#111;font-weight:bold;text-align:center;">95.2%</div>
<div class="t" style="left:794.00px;width:120px;top:632.67px;font-size:12.5px;line-height:15px;color:#111;font-weight:bold;text-align:center;">6</div>
<div class="t" style="left:826.00px;width:120px;top:632.67px;font-size:12.5px;line-height:15px;color:#111;font-weight:bold;text-align:center;">30</div>
<div class="t" style="left:858.00px;width:120px;top:632.67px;font-size:12.5px;line-height:15px;color:#111;font-weight:bold;text-align:center;">36</div>
<div class="t" style="left:911.50px;width:120px;top:632.67px;font-size:12.5px;line-height:15px;color:#111;font-weight:bold;text-align:center;">14</div>
<div class="t" style="left:943.00px;width:120px;top:632.67px;font-size:12.5px;line-height:15px;color:#111;font-weight:bold;text-align:center;">8</div>
<div class="t" style="left:974.50px;width:120px;top:632.67px;font-size:12.5px;line-height:15px;color:#111;font-weight:bold;text-align:center;">15</div>
<div class="t" style="left:1028.00px;width:120px;top:632.67px;font-size:12.5px;line-height:15px;color:#111;font-weight:bold;text-align:center;">3</div>
<div class="t" style="left:1060.00px;width:120px;top:632.67px;font-size:12.5px;line-height:15px;color:#111;font-weight:bold;text-align:center;">2</div>
<div class="t" style="left:1112.00px;width:120px;top:632.67px;font-size:12.5px;line-height:15px;color:#111;font-weight:bold;text-align:center;">22</div>
<div class="t" style="left:1144.00px;width:120px;top:632.67px;font-size:12.5px;line-height:15px;color:#111;font-weight:bold;text-align:center;">21</div>
<div class="t" style="left:1197.00px;width:120px;top:632.67px;font-size:12.5px;line-height:15px;color:#111;font-weight:bold;text-align:center;">95</div>
<div class="t" style="left:55.00px;top:703.80px;font-size:15px;line-height:18px;color:#111;font-weight:bold;"><span style="font-weight:normal">Head coach:</span><span style="font-weight:normal;font-size:12px;letter-spacing:-0.3px;margin-left:3.5px">PIERRIC</span><span style="font-size:12.5px;margin-left:5px">POUPET</span></div>
</body></html>
